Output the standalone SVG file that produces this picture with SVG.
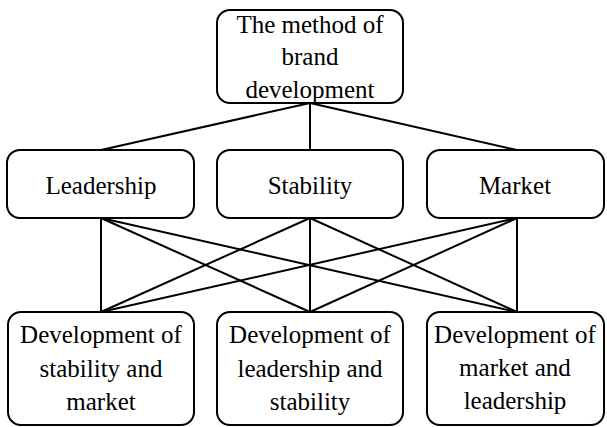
<svg xmlns="http://www.w3.org/2000/svg" width="607" height="427" viewBox="0 0 607 427">
<style>
.box{fill:#fff;stroke:#000;stroke-width:2}
.lbl{font-family:"Liberation Serif","Times New Roman",serif;font-size:25px;fill:#000;text-anchor:middle}
.con line{stroke:#000;stroke-width:2}
</style>
<rect width="607" height="427" fill="#fff"/>
<g id="connectors" class="con">
<line x1="310" y1="103" x2="101" y2="150"/>
<line x1="310" y1="103" x2="310" y2="150"/>
<line x1="310" y1="103" x2="517" y2="150"/>
<line x1="101" y1="218" x2="101" y2="312"/>
<line x1="101" y1="218" x2="310" y2="312"/>
<line x1="101" y1="218" x2="517" y2="312"/>
<line x1="310" y1="218" x2="101" y2="312"/>
<line x1="310" y1="218" x2="310" y2="312"/>
<line x1="310" y1="218" x2="517" y2="312"/>
<line x1="517" y1="218" x2="101" y2="312"/>
<line x1="517" y1="218" x2="310" y2="312"/>
<line x1="517" y1="218" x2="517" y2="312"/>
</g>
<g id="root">
<rect class="box" x="217" y="10" width="186" height="93" rx="13"/>
<text class="lbl" x="310" y="33">The method of</text>
<text class="lbl" x="310" y="65">brand</text>
<text class="lbl" x="310" y="98">development</text>
</g>
<g id="leadership">
<rect class="box" x="7" y="150" width="187" height="68" rx="13"/>
<text class="lbl" x="101" y="194">Leadership</text>
</g>
<g id="stability">
<rect class="box" x="217" y="150" width="186" height="68" rx="13"/>
<text class="lbl" x="310" y="194">Stability</text>
</g>
<g id="market">
<rect class="box" x="427" y="150" width="177" height="68" rx="13"/>
<text class="lbl" x="515" y="194">Market</text>
</g>
<g id="dev-stability-market">
<rect class="box" x="8" y="312" width="186" height="113" rx="13"/>
<text class="lbl" x="101" y="343">Development of</text>
<text class="lbl" x="101" y="377">stability and</text>
<text class="lbl" x="101" y="410">market</text>
</g>
<g id="dev-leadership-stability">
<rect class="box" x="217" y="312" width="186" height="113" rx="13"/>
<text class="lbl" x="310" y="343">Development of</text>
<text class="lbl" x="310" y="377">leadership and</text>
<text class="lbl" x="310" y="410">stability</text>
</g>
<g id="dev-market-leadership">
<rect class="box" x="427" y="312" width="177" height="113" rx="13"/>
<text class="lbl" x="515" y="343">Development of</text>
<text class="lbl" x="515" y="376">market and</text>
<text class="lbl" x="515" y="409">leadership</text>
</g>
</svg>
